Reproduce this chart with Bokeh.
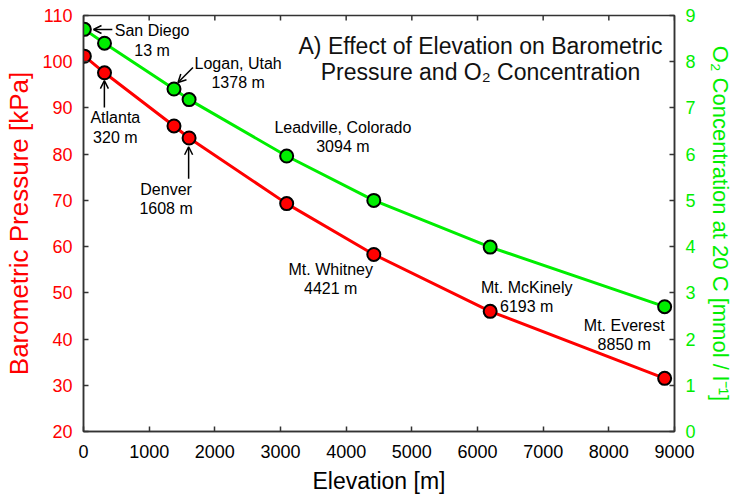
import math
from bokeh.plotting import figure
from bokeh.models import Range1d, LinearAxis, FixedTicker, Arrow, OpenHead, ColumnDataSource
from bokeh.core.properties import value
from bokeh.embed import file_html
from bokeh.resources import INLINE

# ---- data ----
cities = ["San Diego", "Atlanta", "Logan, Utah", "Denver", "Leadville, Colorado",
          "Mt. Whitney", "Mt. McKinely", "Mt. Everest"]
elevation = [13, 320, 1378, 1608, 3094, 4421, 6193, 8850]
pressure = [101.2, 97.6, 86.1, 83.5, 69.3, 58.3, 46.0, 31.5]
o2_conc = [8.70, 8.40, 7.41, 7.18, 5.96, 5.00, 3.99, 2.70]
x_ticks = list(range(0, 9001, 1000))
p_ticks = list(range(20, 111, 10))
o2_ticks = list(range(0, 10))

# ---- annotation placement (data coords: x in m, y in kPa) ----
label_x = [1045, 485, 2355, 1258, 3950, 3765, 6750, 8235]
label_y1 = [106.75, 87.9, 99.6, 72.35, 85.8, 55.0, 51.2, 42.9]
label_y2 = [102.4, 83.6, 95.5, 68.2, 81.7, 50.9, 47.0, 38.8]
arrows = [(439, 106.97, 152, 106.97),
          (318, 90.1, 318, 95.9),
          (1667, 98.75, 1439, 95.5),
          (1601, 74.7, 1601, 81.6)]
title_lines = ["A) Effect of Elevation on Barometric", "Pressure and O\u2082 Concentration"]
title_x = 6045
title_y = [103.5, 97.7]

RED = "#ff0000"
GREEN = "#00ee00"
FONT = "Liberation Sans"
AX = "#333333"

p = figure(width=735, height=499, x_range=Range1d(0, 9000), y_range=Range1d(20, 110),
           output_backend="svg", toolbar_location=None,
           min_border_left=83, min_border_right=58, min_border_top=15, min_border_bottom=68,
           background_fill_color="white", border_fill_color="white")
p.extra_y_ranges = {"o2": Range1d(0, 9)}
p.xgrid.grid_line_color = None
p.ygrid.grid_line_color = None
p.outline_line_color = AX
p.outline_line_width = 1.5

def style(ax, color):
    ax.major_tick_in = 5
    ax.major_tick_out = 0
    ax.minor_tick_line_color = None
    ax.axis_line_color = AX
    ax.axis_line_width = 1.5
    ax.major_tick_line_color = AX
    ax.major_tick_line_width = 1.5
    ax.major_label_text_font = FONT
    ax.major_label_text_color = color
    ax.axis_label_text_font = FONT
    ax.axis_label_text_font_style = "normal"
    ax.axis_label_text_color = color

xa = p.xaxis[0]
style(xa, "black")
xa.ticker = FixedTicker(ticks=x_ticks)
xa.major_label_text_font_size = "18px"
xa.major_label_standoff = 13
xa.axis_label = "Elevation [m]"
xa.axis_label_text_font_size = "23px"
xa.axis_label_standoff = 7

ya = p.yaxis[0]
style(ya, RED)
ya.ticker = FixedTicker(ticks=p_ticks)
ya.major_label_text_font_size = "18px"
ya.major_label_standoff = 11
ya.axis_label = "Barometric Pressure [kPa]"
ya.axis_label_text_font_size = "26px"
ya.axis_label_standoff = 5

ra = LinearAxis(y_range_name="o2")
style(ra, GREEN)
ra.ticker = FixedTicker(ticks=o2_ticks)
ra.major_label_text_font_size = "18px"
ra.major_label_standoff = 11
ra.axis_label = "O\u2082 Concentration at 20 C [mmol / l\u207b\u00b9]"
ra.axis_label_text_font_size = "22px"
ra.axis_label_standoff = 9
p.add_layout(ra, "right")

# inward tick marks along the top edge (mirror of the bottom axis ticks)
p.ray(x=x_ticks, y=[p_ticks[-1]] * len(x_ticks), length=5, length_units="screen",
      angle=-math.pi / 2, line_color=AX, line_width=1.5)

# ---- series ----
p.line(elevation, pressure, line_color=RED, line_width=3)
p.line(elevation, o2_conc, line_color=GREEN, line_width=3, y_range_name="o2")
p.scatter(elevation, pressure, size=13, fill_color=RED, line_color="black", line_width=2)
p.scatter(elevation, o2_conc, size=13, fill_color=GREEN, line_color="black", line_width=2,
          y_range_name="o2")

# ---- annotations ----
src = ColumnDataSource(dict(
    x=label_x + label_x,
    y=label_y1 + label_y2,
    t=cities + [f"{e} m" for e in elevation],
))
p.text(x="x", y="y", text="t", source=src, text_font=value(FONT), text_font_size=value("16px"),
       text_align="center", text_baseline="middle", text_color="black")

for xs, ys, xe, ye in arrows:
    p.add_layout(Arrow(end=OpenHead(size=8, line_width=1.5, line_color="black"),
                       x_start=xs, y_start=ys, x_end=xe, y_end=ye,
                       line_width=1.5, line_color="black"))

tsrc = ColumnDataSource(dict(x=[title_x, title_x], y=title_y, t=title_lines))
p.text(x="x", y="y", text="t", source=tsrc, text_font=value(FONT), text_font_size=value("23px"),
       text_align="center", text_baseline="middle", text_color="#111111")

open("out.html", "w").write(file_html(p, INLINE))
